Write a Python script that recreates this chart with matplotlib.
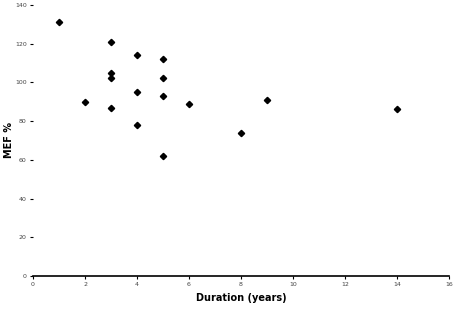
import numpy as np
import matplotlib.pyplot as plt

# duration (years) vs MEF %
duration = [1, 2, 3, 3, 3, 3, 4, 4, 4, 5, 5, 5, 5, 6, 8, 9, 14]
mef = [131, 90, 121, 105, 102, 87, 114, 95, 78, 112, 102, 93, 62, 89, 74, 91, 86]

xticks = [0, 2, 4, 6, 8, 10, 12, 14, 16]
yticks = [0, 20, 40, 60, 80, 100, 120, 140]

fig = plt.figure(figsize=(4.59, 3.09), dpi=100)
ax = fig.add_axes([0.072, 0.107, 0.906, 0.877])

ax.plot(duration, mef, 'D', color='black', markersize=3.2, linestyle='none')

ax.set_xlim(0, 16)
ax.set_ylim(0, 140)
ax.set_xticks(xticks)
ax.set_yticks(yticks)
ax.set_xticklabels([str(t) for t in xticks])
ax.set_yticklabels([str(t) for t in yticks])

for s in ['top', 'right', 'left']:
    ax.spines[s].set_visible(False)
ax.spines['bottom'].set_linewidth(1.2)

ax.tick_params(axis='both', labelsize=4.5, labelcolor='#444444', length=2.5, width=0.8, pad=2)

ax.set_xlabel('Duration (years)', fontsize=7, fontweight='bold')
ax.set_ylabel('MEF %', fontsize=7, fontweight='bold')
ax.xaxis.set_label_coords(0.5, -0.062)
ax.yaxis.set_label_coords(-0.047, 0.5)

fig.savefig('out.png', dpi=100)
